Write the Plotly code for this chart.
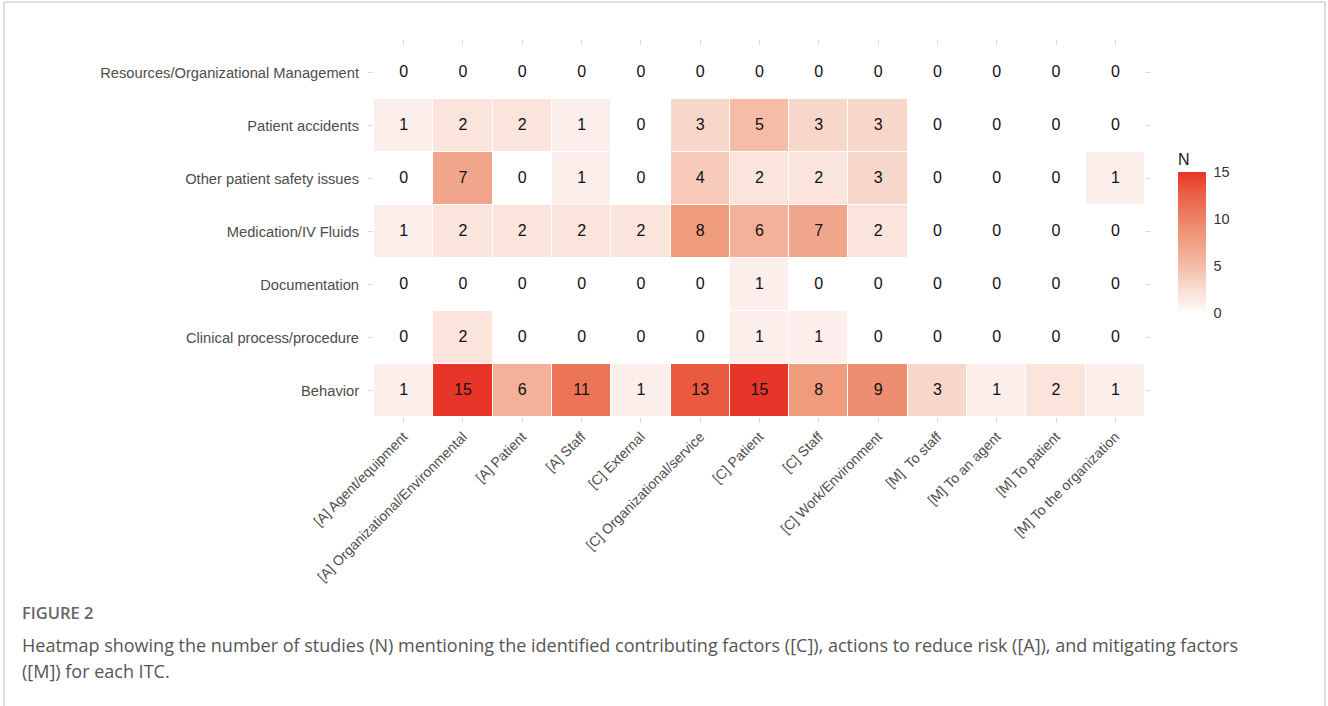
import plotly.graph_objects as go

columns = ["[A] Agent/equipment", "[A] Organizational/Environmental", "[A] Patient", "[A] Staff",
           "[C] External", "[C] Organizational/service", "[C] Patient", "[C] Staff",
           "[C] Work/Environment", "[M]  To staff", "[M] To an agent", "[M] To patient",
           "[M] To the organization"]
rows = ["Resources/Organizational Management", "Patient accidents", "Other patient safety issues",
        "Medication/IV Fluids", "Documentation", "Clinical process/procedure", "Behavior"]
values = [
    [0, 0, 0, 0, 0, 0, 0, 0, 0, 0, 0, 0, 0],
    [1, 2, 2, 1, 0, 3, 5, 3, 3, 0, 0, 0, 0],
    [0, 7, 0, 1, 0, 4, 2, 2, 3, 0, 0, 0, 1],
    [1, 2, 2, 2, 2, 8, 6, 7, 2, 0, 0, 0, 0],
    [0, 0, 0, 0, 0, 0, 1, 0, 0, 0, 0, 0, 0],
    [0, 2, 0, 0, 0, 0, 1, 1, 0, 0, 0, 0, 0],
    [1, 15, 6, 11, 1, 13, 15, 8, 9, 3, 1, 2, 1],
]

W, H = 1328, 706
ML, MR, MT, MB = 374, 183, 46, 289
PW, PH = W - ML - MR, H - MT - MB
SANS = "Arial"

def px(x):
    return (x - ML) / PW

def py(y):
    return (H - MB - y) / PH

z = [[(v if v > 0 else None) for v in r] for r in values]

colorscale = [
    [0.0, "#FFFFFF"], [1/15, "#FCEFEB"], [2/15, "#FAE4DC"], [3/15, "#F8D7CB"],
    [5/15, "#F5BCA8"], [7/15, "#F1A68B"], [8/15, "#EF9B7E"], [9/15, "#EE8E71"],
    [11/15, "#EC7558"], [13/15, "#EA5A40"], [1.0, "#E8352A"],
]

fig = go.Figure()
fig.add_trace(go.Heatmap(
    x=columns, y=rows, z=z, zmin=0, zmax=15, colorscale=colorscale,
    xgap=1, ygap=1, hoverongaps=False,
    colorbar=dict(
        title=dict(text="N", side="top", font=dict(size=16, color="#1a1a1a", family=SANS)),
        x=px(1178), xanchor="left", xpad=0,
        y=py(150), yanchor="top", ypad=0,
        len=163, lenmode="pixels", thickness=28, thicknessmode="pixels",
        outlinewidth=0, tickvals=[0, 5, 10, 15], ticks="outside", ticklen=5,
        tickcolor="white",
        tickfont=dict(size=14.5, color="#333333", family=SANS),
    ),
))

tx, ty, tt = [], [], []
for i, r in enumerate(rows):
    for j, c in enumerate(columns):
        tx.append(c)
        ty.append(r)
        tt.append(str(values[i][j]))
fig.add_trace(go.Scatter(
    x=tx, y=ty, text=tt, mode="text", hoverinfo="skip", showlegend=False,
    textfont=dict(size=16, color="#111111", family=SANS),
))

fig.update_xaxes(
    type="category", categoryorder="array", categoryarray=columns,
    tickangle=-45, ticks="outside", ticklen=5, tickcolor="#d9d9d9", tickwidth=1,
    mirror="ticks", showline=True, linecolor="rgba(0,0,0,0)",
    showgrid=False, zeroline=False,
    tickfont=dict(size=14, color="#4d4d4d", family=SANS),
    range=[-0.5, len(columns) - 0.5],
)
fig.update_yaxes(
    type="category", categoryorder="array", categoryarray=rows[::-1],
    ticks="outside", ticklen=5, tickcolor="#d9d9d9", tickwidth=1,
    mirror="ticks", showline=True, linecolor="rgba(0,0,0,0)",
    showgrid=False, zeroline=False,
    tickfont=dict(size=14.7, color="#4d4d4d", family=SANS),
    range=[-0.5, len(rows) - 0.5], ticklabelstandoff=6,
)

fig.add_shape(type="rect", xref="paper", yref="paper",
              x0=px(4), x1=px(1325), y0=py(730), y1=py(2),
              line=dict(color="#bdbdbd", width=1), fillcolor="rgba(0,0,0,0)", layer="below")

fig.add_annotation(xref="paper", yref="paper", x=px(20), y=py(612), xanchor="left", yanchor="middle",
                   text="FIGURE 2", showarrow=False,
                   font=dict(size=16.5, color="#666666", family="Open Sans", weight=600))
fig.add_annotation(xref="paper", yref="paper", x=px(20), y=py(645), xanchor="left", yanchor="middle",
                   text="Heatmap showing the number of studies (N) mentioning the identified contributing factors ([C]), actions to reduce risk ([A]), and mitigating factors",
                   showarrow=False, font=dict(size=18, color="#555555", family="Open Sans"))
fig.add_annotation(xref="paper", yref="paper", x=px(20), y=py(671), xanchor="left", yanchor="middle",
                   text="([M]) for each ITC.",
                   showarrow=False, font=dict(size=18, color="#555555", family="Open Sans"))

fig.update_layout(
    width=W, height=H, margin=dict(l=ML, r=MR, t=MT, b=MB),
    paper_bgcolor="white", plot_bgcolor="white", showlegend=False,
)

fig.write_html("out.html")
